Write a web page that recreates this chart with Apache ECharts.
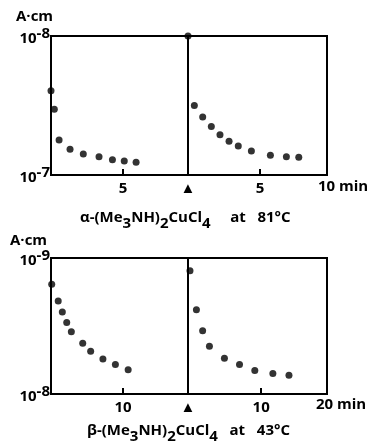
<!DOCTYPE html>
<html>
<head>
<meta charset="utf-8">
<script src="https://cdn.jsdelivr.net/npm/echarts@6/dist/echarts.min.js"></script>
<style>
  html, body { margin: 0; padding: 0; background: #fff; }
  #chart { width: 373px; height: 448px; }
</style>
</head>
<body>
<div id="chart"></div>
<script>
// alpha form, 81 C (minutes, A.cm)
const alphaBeforeTime = [0, 0.23, 0.56, 1.32, 2.24, 3.33, 4.26, 5.08, 5.9]
const alphaBeforeValue = [2.48e-8, 3.37e-8, 5.6e-8, 6.53e-8, 7.06e-8, 7.38e-8, 7.76e-8, 7.93e-8, 8.1e-8]
const alphaAfterTime = [0, 0.44, 1.02, 1.62, 2.22, 2.85, 3.49, 4.4, 5.72, 6.83, 7.69]
const alphaAfterValue = [1.0e-8, 3.16e-8, 3.83e-8, 4.47e-8, 5.13e-8, 5.72e-8, 6.18e-8, 6.72e-8, 7.22e-8, 7.38e-8, 7.46e-8]

// beta form, 43 C
const betaBeforeTime = [0.1, 1.0, 1.57, 2.18, 2.82, 4.4, 5.5, 7.2, 8.93, 10.7]
const betaBeforeValue = [1.56e-9, 2.07e-9, 2.49e-9, 2.98e-9, 3.49e-9, 4.23e-9, 4.84e-9, 5.52e-9, 6.08e-9, 6.62e-9]
const betaAfterTime = [0.27, 1.15, 2.0, 2.93, 4.98, 7.04, 9.13, 11.6, 13.8]
const betaAfterValue = [1.24e-9, 2.40e-9, 3.43e-9, 4.45e-9, 5.46e-9, 6.08e-9, 6.73e-9, 7.08e-9, 7.28e-9]

const xLabels = [
  { 5: '5' },
  { 0: '\u25B2', 5: '5' },
  { 10: '10' },
  { 0: '\u25B2', 10: '10' }
]
const xMax = [9.5, 9.65, 19, 19]
const xInterval = [5, 5, 10, 10]
const yRange = [[1e-8, 1e-7], [1e-8, 1e-7], [1e-9, 1e-8], [1e-9, 1e-8]]

const FONT = 'Open Sans'

const zip = (xs, ys) => xs.map((x, i) => [x, ys[i]])

const grids = [
  { left: 51, top: 36, width: 137, height: 139 },
  { left: 188, top: 36, width: 139, height: 139 },
  { left: 51, top: 258, width: 137, height: 136 },
  { left: 188, top: 258, width: 139, height: 136 }
].map((g) => ({ ...g, show: true, borderColor: '#000', borderWidth: 2, backgroundColor: 'transparent' }))

const xAxes = grids.map((g, i) => ({
  type: 'value',
  gridIndex: i,
  min: 0,
  max: xMax[i],
  interval: xInterval[i],
  axisLine: { show: true, lineStyle: { color: '#000', width: 2 } },
  splitLine: { show: false },
  axisTick: {
    show: true,
    inside: true,
    length: 6,
    lineStyle: { color: '#000', width: 2 }
  },
  axisLabel: {
    margin: 6,
    color: '#000',
    fontFamily: FONT,
    fontWeight: 'bold',
    fontSize: 15,
    showMinLabel: true,
    showMaxLabel: true,
    formatter: (v) => xLabels[i][v] || ''
  }
}))

// "10" with a raised exponent
const expRich = {
  b: { fontFamily: FONT, fontWeight: 'bold', fontSize: 15, color: '#000', verticalAlign: 'bottom', lineHeight: 20 },
  s: { fontFamily: FONT, fontWeight: 'bold', fontSize: 15, color: '#000', verticalAlign: 'top', lineHeight: 15 }
}

const yAxes = grids.map((g, i) => ({
  type: 'log',
  gridIndex: i,
  logBase: 10,
  inverse: true,
  min: yRange[i][0],
  max: yRange[i][1],
  axisLine: { show: true, lineStyle: { color: '#000', width: 2 } },
  splitLine: { show: false },
  axisTick: { show: false },
  axisLabel: {
    show: i % 2 === 0,
    margin: 1,
    rich: expRich,
    formatter: (v) => '{b|10}{s|' + Math.round(Math.log10(v)) + '}'
  }
}))

const series = [
  zip(alphaBeforeTime, alphaBeforeValue),
  zip(alphaAfterTime, alphaAfterValue),
  zip(betaBeforeTime, betaBeforeValue),
  zip(betaAfterTime, betaAfterValue)
].map((data, i) => ({
  type: 'scatter',
  xAxisIndex: i,
  yAxisIndex: i,
  data,
  clip: false,
  symbolSize: 7,
  itemStyle: { color: '#000' },
  silent: true
}))

const textStyle = (extra) => ({ fill: '#000', font: 'bold 15px "' + FONT + '"', ...extra })

// formula titles with lowered subscripts
const titleRich = {
  m: { fontFamily: FONT, fontWeight: 'bold', fontSize: 15, fill: '#000', verticalAlign: 'top', lineHeight: 15 },
  d: { fontFamily: FONT, fontWeight: 'bold', fontSize: 15, fill: '#000', verticalAlign: 'bottom', lineHeight: 21 }
}
const formula = (form, temp, gap) =>
  '{m|' + form + '-(Me}{d|3}{m|NH)}{d|2}{m|CuCl}{d|4}{m|' + gap + 'at   ' + temp + '\u00B0C}'

const graphic = [
  { type: 'text', left: 16, top: 9, style: textStyle({ text: 'A\u00B7cm' }) },
  { type: 'text', left: 10, top: 233, style: textStyle({ text: 'A\u00B7cm' }) },
  { type: 'text', left: 318, top: 179, style: textStyle({ text: '10 min' }) },
  { type: 'text', left: 316, top: 397, style: textStyle({ text: '20 min' }) },
  { type: 'text', left: 80, top: 210, style: { text: formula('\u03B1', 81, '     '), rich: titleRich } },
  { type: 'text', left: 87, top: 423, style: { text: formula('\u03B2', 43, '   '), rich: titleRich } }
]

const chart = echarts.init(document.getElementById('chart'), null, { renderer: 'canvas' })
chart.setOption({
  animation: false,
  backgroundColor: '#fff',
  grid: grids,
  xAxis: xAxes,
  yAxis: yAxes,
  series,
  graphic
})
</script>
</body>
</html>
